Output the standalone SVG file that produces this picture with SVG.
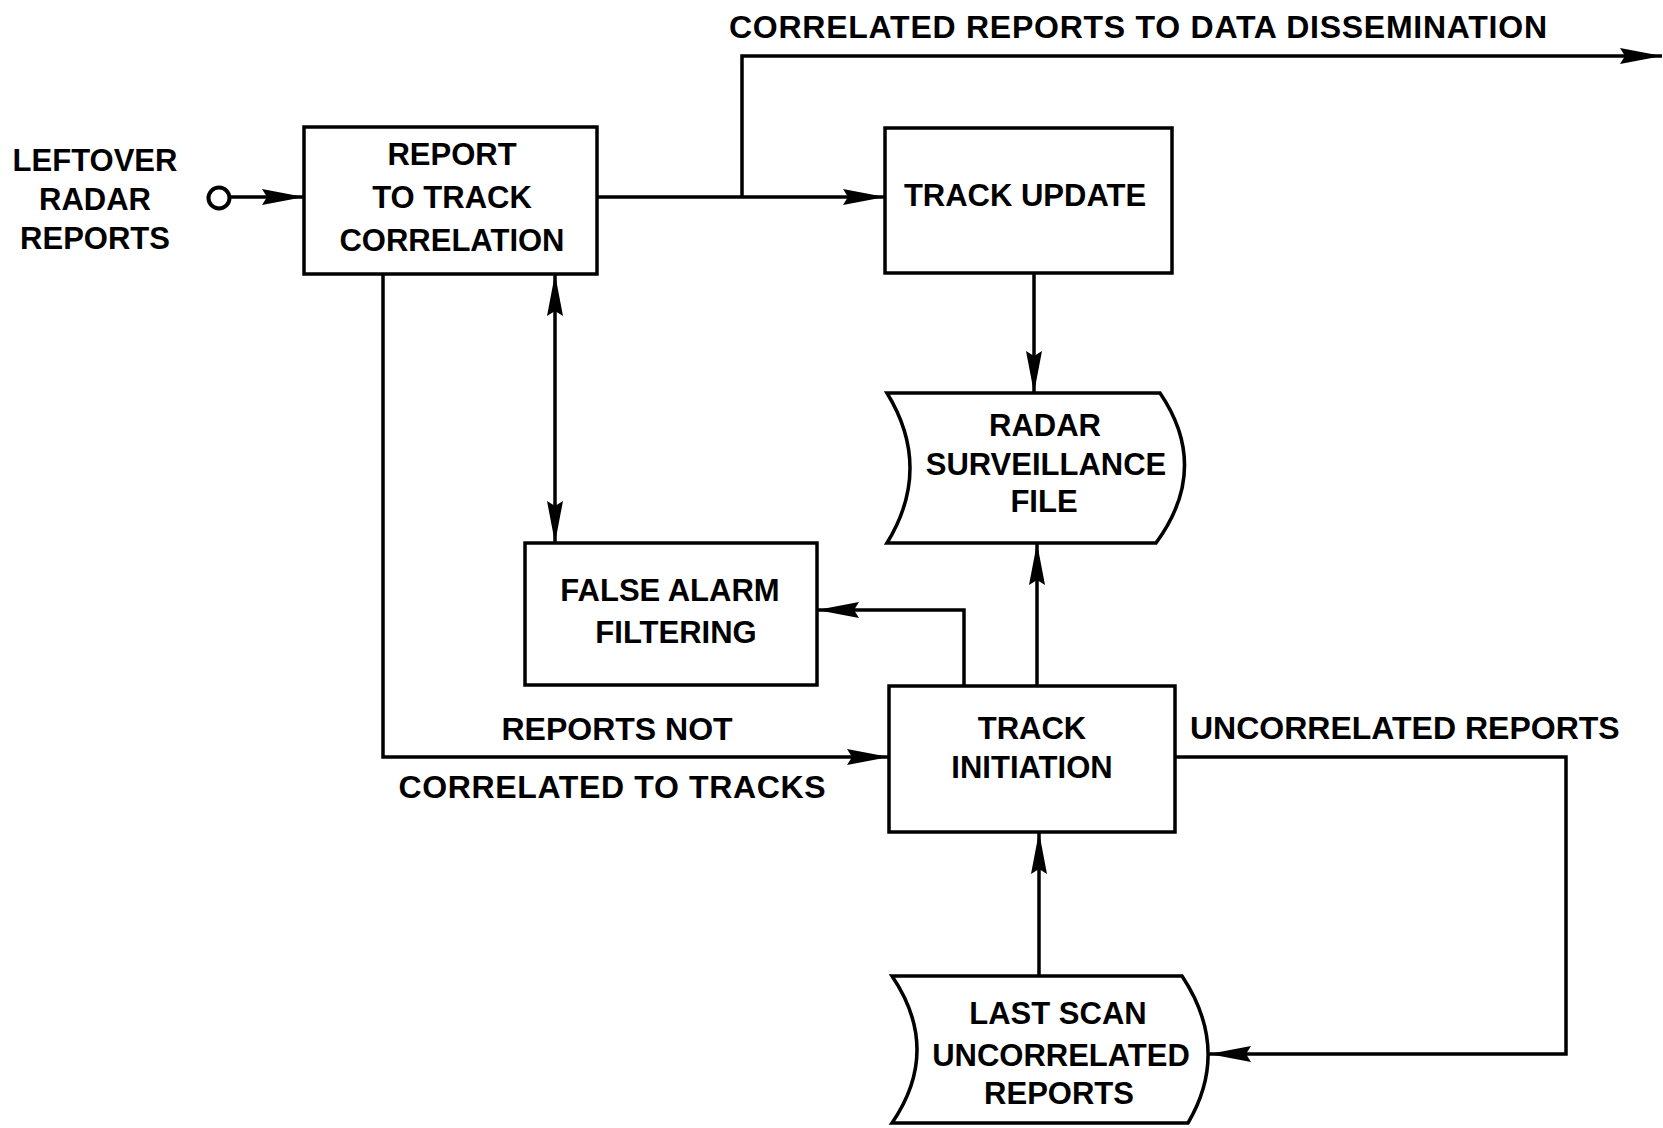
<svg xmlns="http://www.w3.org/2000/svg" width="1663" height="1128" viewBox="0 0 1663 1128">
<style>
.n{fill:#fff;stroke:#000;stroke-width:3.5}
.c{fill:none;stroke:#000;stroke-width:3.5}
text{font-family:"Liberation Sans",Arial,sans-serif;font-weight:bold;font-size:31px;fill:#000}
.m{text-anchor:middle}
.e{font-size:32px}
</style>
<defs>
<marker id="ah" markerUnits="userSpaceOnUse" markerWidth="44" markerHeight="18" refX="42" refY="8" orient="auto-start-reverse">
<path d="M0,0 L42,8 L0,16 L5,8 Z" fill="#000"/>
</marker>
</defs>
<rect width="1663" height="1128" fill="#fff"/>
<g id="connectors">
<line class="c" x1="231" y1="197" x2="304" y2="197" marker-end="url(#ah)"/>
<circle cx="219" cy="198" r="10.5" fill="#fff" stroke="#000" stroke-width="4"/>
<line class="c" x1="597" y1="197" x2="885" y2="197" marker-end="url(#ah)"/>
<polyline class="c" points="742,197 742,56 1662,56" marker-end="url(#ah)"/>
<line class="c" x1="1034" y1="273" x2="1034" y2="393" marker-end="url(#ah)"/>
<line class="c" x1="555" y1="274" x2="555" y2="543" marker-start="url(#ah)" marker-end="url(#ah)"/>
<polyline class="c" points="383,274 383,757 889,757" marker-end="url(#ah)"/>
<polyline class="c" points="964,686 964,610 817,610" marker-end="url(#ah)"/>
<line class="c" x1="1037" y1="686" x2="1037" y2="543" marker-end="url(#ah)"/>
<polyline class="c" points="1175,757 1566,757 1566,1054 1209,1054" marker-end="url(#ah)"/>
<line class="c" x1="1039" y1="976" x2="1039" y2="832" marker-end="url(#ah)"/>
</g>
<g id="labels">
<text x="729" y="38" class="e" textLength="818" lengthAdjust="spacing">CORRELATED REPORTS TO DATA DISSEMINATION</text>
<text x="617" y="740" class="m e">REPORTS NOT</text>
<text x="612" y="798" class="m e" textLength="427" lengthAdjust="spacing">CORRELATED TO TRACKS</text>
<text x="1190" y="739" class="e">UNCORRELATED REPORTS</text>
</g>
<g id="input">
<text x="95" y="171" class="m">LEFTOVER</text>
<text x="95" y="210" class="m">RADAR</text>
<text x="95" y="249" class="m">REPORTS</text>
</g>
<g id="report-to-track-correlation">
<rect class="n" x="304" y="127" width="293" height="147"/>
<text x="452" y="165" class="m">REPORT</text>
<text x="452" y="208" class="m">TO TRACK</text>
<text x="452" y="251" class="m">CORRELATION</text>
</g>
<g id="track-update">
<rect class="n" x="885" y="128" width="287" height="145"/>
<text x="1025" y="206" class="m">TRACK UPDATE</text>
</g>
<g id="radar-surveillance-file">
<path class="n" d="M887,393 L1160,393 Q1211,468 1156,543 L887,543 Q933,468 887,393 Z"/>
<text x="1045" y="436" class="m">RADAR</text>
<text x="1046" y="475" class="m">SURVEILLANCE</text>
<text x="1044" y="512" class="m">FILE</text>
</g>
<g id="false-alarm-filtering">
<rect class="n" x="525" y="543" width="292" height="142"/>
<text x="670" y="601" class="m">FALSE ALARM</text>
<text x="676" y="643" class="m">FILTERING</text>
</g>
<g id="track-initiation">
<rect class="n" x="889" y="686" width="286" height="146"/>
<text x="1032" y="739" class="m">TRACK</text>
<text x="1032" y="778" class="m">INITIATION</text>
</g>
<g id="last-scan-uncorrelated-reports">
<path class="n" d="M892,976 L1182,976 Q1231,1050 1188,1123 L892,1123 Q942,1050 892,976 Z"/>
<text x="1058" y="1024" class="m">LAST SCAN</text>
<text x="1061" y="1066" class="m">UNCORRELATED</text>
<text x="1059" y="1104" class="m">REPORTS</text>
</g>
</svg>
